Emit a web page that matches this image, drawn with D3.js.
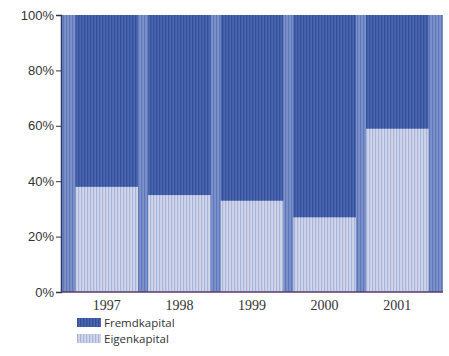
<!DOCTYPE html>
<html><head><meta charset="utf-8">
<script src="https://cdn.jsdelivr.net/npm/d3@7"></script>
<style>body{margin:0;background:#fff}svg{display:block}</style>
</head><body>
<script>
const years = ["1997","1998","1999","2000","2001"];
const eigenkapital = [38, 35, 33, 27, 59];
const fremdkapital = [62, 65, 67, 73, 41];
const yTicks = [0, 20, 40, 60, 80, 100];
const seriesNames = ["Fremdkapital", "Eigenkapital"];

const W = 449, H = 356;
const m = {left: 61, right: 6, top: 15, bottom: 64};
const svg = d3.select("body").append("svg").attr("width", W).attr("height", H);
const defs = svg.append("defs");
function stripe(id, base, line, w) {
  const p = defs.append("pattern").attr("id", id).attr("patternUnits", "userSpaceOnUse")
    .attr("width", 3).attr("height", 3);
  p.append("rect").attr("width", 3).attr("height", 3).attr("fill", base);
  p.append("rect").attr("width", w).attr("height", 3).attr("fill", line);
}
stripe("pBg", "#7c92c8", "#5f78bb", 1.2);
stripe("pDark", "#4d66b0", "#33509c", 1.4);
stripe("pLight", "#d3d6ea", "#a6b5da", 1.2);

const x = d3.scaleBand().domain(years).range([m.left, W - m.right]).paddingInner(0.14).paddingOuter(0.2);
const y = d3.scaleLinear().domain([0, 100]).range([H - m.bottom, m.top]);

svg.append("rect").attr("x", m.left).attr("y", m.top)
  .attr("width", W - m.right - m.left).attr("height", y(0) - m.top).attr("fill", "url(#pBg)");

const g = svg.append("g");
g.selectAll(".eig").data(years).join("rect")
  .attr("x", d => x(d)).attr("width", x.bandwidth())
  .attr("y", (d, i) => y(eigenkapital[i])).attr("height", (d, i) => y(0) - y(eigenkapital[i]))
  .attr("fill", "url(#pLight)");
g.selectAll(".frm").data(years).join("rect")
  .attr("x", d => x(d)).attr("width", x.bandwidth())
  .attr("y", (d, i) => y(eigenkapital[i] + fremdkapital[i]))
  .attr("height", (d, i) => y(eigenkapital[i]) - y(eigenkapital[i] + fremdkapital[i]))
  .attr("fill", "url(#pDark)");

const yAxis = svg.append("g").attr("transform", `translate(${m.left},0)`)
  .call(d3.axisLeft(y).tickValues(yTicks).tickFormat(d => d + "%").tickSize(5).tickPadding(2));
yAxis.select(".domain").attr("stroke", "#2a3a6a").attr("stroke-width", 1.5);
yAxis.selectAll(".tick line").attr("stroke", "#333");
yAxis.selectAll("text").attr("font-family", "Liberation Sans, Arial, sans-serif")
  .attr("font-size", 13).attr("fill", "#333");

const xAxis = svg.append("g").attr("transform", `translate(0,${y(0)})`)
  .call(d3.axisBottom(x).tickSize(0).tickPadding(8));
xAxis.select(".domain").attr("stroke", "#5a3a6a").attr("stroke-width", 1.5)
  .attr("d", `M${m.left},0H${W - m.right}`);
xAxis.selectAll("text").attr("font-family", "Liberation Serif, Times New Roman, serif")
  .attr("font-size", 14).attr("fill", "#333");

const legend = svg.append("g").attr("transform", "translate(77,318)");
const fills = ["url(#pDark)", "url(#pLight)"];
seriesNames.forEach((n, i) => {
  const r = legend.append("g").attr("transform", `translate(0,${i * 16})`);
  r.append("rect").attr("width", 24).attr("height", 9).attr("fill", fills[i]);
  r.append("text").attr("x", 27).attr("y", 9).text(n)
    .attr("font-family", "Open Sans, sans-serif").attr("font-size", 11.5).attr("fill", "#333");
});
</script>
</body></html>
